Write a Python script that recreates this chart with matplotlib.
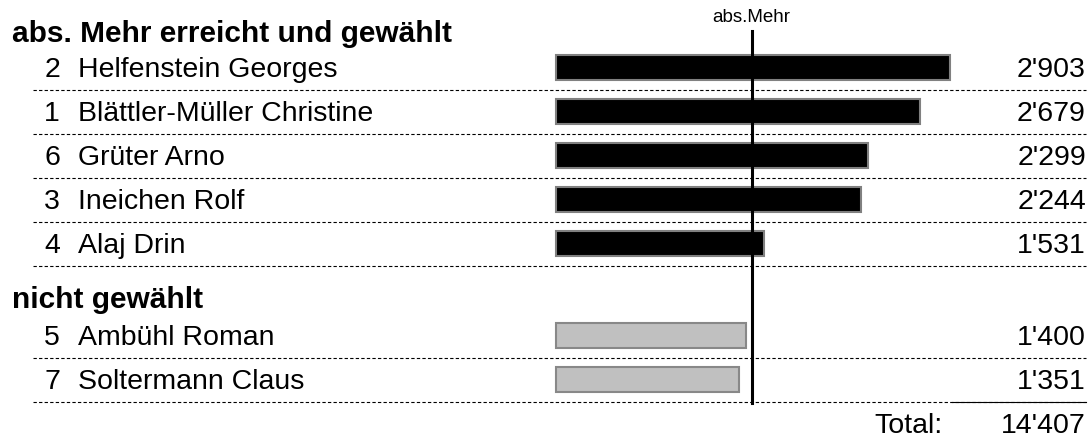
import matplotlib.pyplot as plt
import matplotlib.transforms as mtransforms

plt.rcParams['font.family'] = ['Liberation Sans', 'DejaVu Sans']

# data
elected_nr = [2, 1, 6, 3, 4]
elected_names = ['Helfenstein Georges', 'Blättler-Müller Christine', 'Grüter Arno',
                 'Ineichen Rolf', 'Alaj Drin']
elected_votes = [2903, 2679, 2299, 2244, 1531]
other_nr = [5, 7]
other_names = ['Ambühl Roman', 'Soltermann Claus']
other_votes = [1400, 1351]
abs_mehr = 1441
total = 14407

W, H = 1092, 444
fig = plt.figure(figsize=(W / 100, H / 100), dpi=100)
ax = fig.add_axes([0, 0, 1, 1])
ax.axis('off')

# x in votes: bars start at px 556, 0.1357 px per vote
x0_px, px_per_vote = 556, 0.1357
ax.set_xlim(-x0_px / px_per_vote, (W - x0_px) / px_per_vote)
ax.set_ylim(H, 0)

tr = mtransforms.blended_transform_factory(ax.transAxes, ax.transData)
FS = 20.5
DY = 2.5  # text sits a bit lower than bar centre


def fmt(v):
    return f"{v:,}".replace(',', "'")


def px(x):
    return x / W


def draw_rows(nrs, names, votes, y_start, face, edge):
    ys = [y_start + 44 * i for i in range(len(nrs))]
    ax.barh(ys, votes, height=25, left=0, color=face, edgecolor=edge, linewidth=1.5, zorder=2)
    for y, n, name, v in zip(ys, nrs, names, votes):
        ax.text(px(60), y + DY, str(n), transform=tr, ha='right', va='center', fontsize=FS)
        ax.text(px(78), y + DY, name, transform=tr, ha='left', va='center', fontsize=FS)
        ax.text(px(1086), y + DY, fmt(v), transform=tr, ha='right', va='center', fontsize=FS)
        ax.plot([px(33), px(1086)], [y + 22.5, y + 22.5], transform=tr, color='black',
                linewidth=0.8, linestyle=(0, (3, 2)), zorder=1)
    return ys


ax.text(px(12), 31 + DY, 'abs. Mehr erreicht und gewählt', transform=tr, ha='left',
        va='center', fontsize=21.5, fontweight='bold')
draw_rows(elected_nr, elected_names, elected_votes, 67.5, 'black', '#808080')

ax.text(px(12), 297 + DY, 'nicht gewählt', transform=tr, ha='left', va='center',
        fontsize=21.5, fontweight='bold')
ys = draw_rows(other_nr, other_names, other_votes, 335.5, '#c0c0c0', '#888888')

# absolute majority line
ax.plot([abs_mehr, abs_mehr], [31, ys[-1] + 23], color='black', linewidth=2.2, zorder=3)
ax.text(abs_mehr, 18, 'abs.Mehr', ha='center', va='center', fontsize=13.5)

# total
ax.plot([px(952), px(1086)], [ys[-1] + 22.5] * 2, transform=tr, color='black', linewidth=0.8)
ax.text(px(943), 423 + DY, 'Total:', transform=tr, ha='right', va='center', fontsize=FS)
ax.text(px(1086), 423 + DY, fmt(total), transform=tr, ha='right', va='center', fontsize=FS)

fig.savefig('out.png', dpi=100)
